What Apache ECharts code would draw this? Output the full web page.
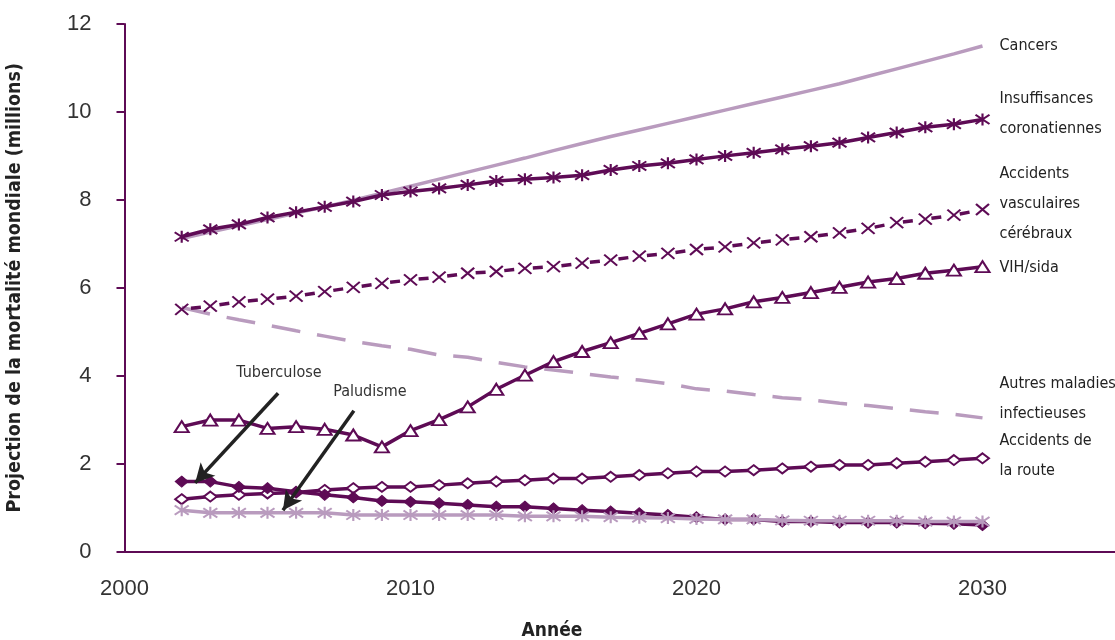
<!DOCTYPE html>
<html>
<head>
<meta charset="utf-8">
<script src="https://cdn.jsdelivr.net/npm/echarts@6/dist/echarts.min.js"></script>
<style>html,body{margin:0;padding:0;background:#fff}#c{width:1115px;height:640px}</style>
</head>
<body>
<div id="c"></div>
<script>
const years = [2002,2003,2004,2005,2006,2007,2008,2009,2010,2011,2012,2013,2014,2015,2016,2017,2018,2019,2020,2021,2022,2023,2024,2025,2026,2027,2028,2029,2030];
const xTicks = [2000, 2010, 2020, 2030];
const yTicks = [0, 2, 4, 6, 8, 10, 12];

const cancers = [7.12,7.27,7.41,7.55,7.70,7.84,7.99,8.15,8.31,8.47,8.63,8.79,8.95,9.12,9.28,9.44,9.59,9.74,9.89,10.04,10.19,10.34,10.49,10.64,10.81,10.98,11.15,11.32,11.50];
const insuffisances = [7.16,7.33,7.44,7.60,7.72,7.84,7.96,8.11,8.19,8.26,8.34,8.43,8.47,8.51,8.56,8.68,8.77,8.83,8.92,9.00,9.07,9.15,9.22,9.30,9.42,9.53,9.65,9.72,9.83];
const avc = [5.51,5.58,5.68,5.74,5.81,5.91,6.01,6.10,6.18,6.24,6.33,6.37,6.44,6.48,6.56,6.63,6.72,6.78,6.87,6.93,7.02,7.09,7.16,7.25,7.35,7.48,7.56,7.65,7.78];
const vih = [2.84,2.99,2.99,2.80,2.84,2.78,2.65,2.38,2.75,3.00,3.29,3.69,4.01,4.32,4.55,4.75,4.96,5.18,5.40,5.52,5.68,5.78,5.89,6.01,6.13,6.21,6.33,6.40,6.48];
const autres = [5.55,5.40,5.27,5.15,5.02,4.90,4.78,4.68,4.60,4.47,4.42,4.30,4.20,4.13,4.05,3.97,3.90,3.82,3.70,3.65,3.57,3.50,3.45,3.37,3.32,3.25,3.18,3.12,3.04];
const route = [1.19,1.25,1.29,1.32,1.34,1.40,1.44,1.47,1.47,1.51,1.55,1.59,1.62,1.66,1.66,1.70,1.74,1.78,1.82,1.82,1.85,1.89,1.93,1.97,1.97,2.01,2.04,2.08,2.12];
const tuberculose = [1.59,1.59,1.47,1.44,1.36,1.29,1.23,1.15,1.13,1.10,1.06,1.02,1.02,0.98,0.94,0.91,0.87,0.83,0.78,0.73,0.73,0.68,0.68,0.66,0.66,0.66,0.64,0.63,0.60];
const paludisme = [0.94,0.88,0.88,0.88,0.88,0.88,0.83,0.83,0.83,0.83,0.83,0.83,0.80,0.80,0.80,0.78,0.77,0.76,0.74,0.73,0.73,0.71,0.70,0.70,0.70,0.70,0.68,0.68,0.68];

const seriesNames = ['Cancers','Insuffisances\ncoronatiennes','Accidents\nvasculaires\ncérébraux','VIH/sida','Autres maladies\ninfectieuses','Accidents de\nla route','Tuberculose','Paludisme'];

// annotations: label positions and arrow start/tip, in data coordinates
const tbLabel = [2005.40, 4.06], tbArrow = [[2005.37, 3.60], [2002.47, 1.56]];
const palLabel = [2008.58, 3.63], palArrow = [[2008.02, 3.20], [2005.54, 0.94]];

const DARK = '#5e0b55';
const LIGHT = '#b99bbe';
const NARROW = "'Liberation Sans Narrow','DejaVu Sans Condensed','Liberation Sans',sans-serif";

const pair = arr => years.map((y, i) => [y, arr[i]]);
const endLbl = (dy) => ({
  show: true, formatter: p => p.seriesName, distance: 0, offset: [17, dy],
  fontFamily: NARROW, fontSize: 16, lineHeight: 30, color: '#222', align: 'left', verticalAlign: 'middle'
});

const asterisk = 'path://M0,0L10,10M10,0L0,10M5,-1.5L5,11.5';
const cross = 'path://M0,0L10,10M10,0L0,10';

const chart = echarts.init(document.getElementById('c'));
chart.setOption({
  animation: false,
  backgroundColor: '#fff',
  grid: { left: 124.5, right: -10.5, top: 24, bottom: 88.5, outerBoundsMode: 'none', containLabel: false },
  xAxis: {
    type: 'value', min: 2000, max: 2035, interval: 10,
    axisLine: { lineStyle: { color: DARK, width: 2 } },
    axisTick: { show: false },
    splitLine: { show: false },
    axisLabel: { showMaxLabel: false, margin: 26, fontSize: 22, color: '#333', fontFamily: "'Liberation Sans',sans-serif",
      formatter: v => xTicks.indexOf(v) >= 0 ? String(v) : '' }
  },
  yAxis: {
    type: 'value', min: 0, max: 12, interval: 2,
    name: 'Projection de la mortalité mondiale (millions)', nameLocation: 'middle', nameGap: 100,
    nameTextStyle: { fontFamily: NARROW, fontWeight: 'bold', fontSize: 19.5, color: '#222' },
    axisLine: { show: true, lineStyle: { color: DARK, width: 2 } },
    axisTick: { show: true, length: 8, lineStyle: { color: DARK, width: 2 } },
    splitLine: { show: false },
    axisLabel: { margin: 33, fontSize: 22, color: '#333', fontFamily: "'Liberation Sans',sans-serif",
      formatter: v => yTicks.indexOf(v) >= 0 ? String(v) : '' }
  },
  graphic: [{
    type: 'text', x: 552, y: 631,
    style: { text: 'Année', fontFamily: NARROW, fontWeight: 'bold', fontSize: 19, fill: '#222', align: 'center', verticalAlign: 'middle' }
  }],
  series: [
    { name: seriesNames[0], type: 'line', data: pair(cancers), showSymbol: false, symbol: 'none',
      lineStyle: { color: LIGHT, width: 3.5 }, itemStyle: { color: LIGHT }, endLabel: endLbl(0), z: 1 },
    { name: seriesNames[4], type: 'line', data: pair(autres), showSymbol: false, symbol: 'none',
      lineStyle: { color: LIGHT, width: 3.5, type: [29, 17] }, itemStyle: { color: LIGHT }, endLabel: endLbl(-19), z: 1 },
    { name: seriesNames[1], type: 'line', data: pair(insuffisances), symbol: asterisk, symbolSize: [14, 12],
      lineStyle: { color: DARK, width: 3.5 }, itemStyle: { color: 'none', borderColor: DARK, borderWidth: 2 },
      endLabel: endLbl(-6), z: 3 },
    { name: seriesNames[2], type: 'line', data: pair(avc), symbol: cross, symbolSize: [13, 11],
      lineStyle: { color: DARK, width: 3.5, type: [10, 18.7], dashOffset: 19.4 },
      itemStyle: { color: 'none', borderColor: DARK, borderWidth: 2 },
      endLabel: endLbl(-6), z: 3 },
    { name: seriesNames[3], type: 'line', data: pair(vih), symbol: 'triangle', symbolSize: [14, 11],
      lineStyle: { color: DARK, width: 3.5 }, itemStyle: { color: '#fff', borderColor: DARK, borderWidth: 2 },
      endLabel: endLbl(1), z: 3 },
    { name: seriesNames[5], type: 'line', data: pair(route), symbol: 'diamond', symbolSize: [13, 10],
      lineStyle: { color: DARK, width: 3.5 }, itemStyle: { color: '#fff', borderColor: DARK, borderWidth: 2 },
      endLabel: endLbl(-2), z: 3 },
    { name: seriesNames[6], type: 'line', data: pair(tuberculose), symbol: 'diamond', symbolSize: [13, 11],
      lineStyle: { color: DARK, width: 3.5 }, itemStyle: { color: DARK, borderColor: DARK, borderWidth: 1 }, z: 3,
      markLine: {
        silent: true, symbol: ['none', 'arrow'], symbolSize: [15, 19],
        lineStyle: { color: '#222', width: 3.5, type: 'solid' }, label: { show: false },
        data: [
          [{ coord: tbArrow[0] }, { coord: tbArrow[1] }],
          [{ coord: palArrow[0] }, { coord: palArrow[1] }]
        ]
      },
      markPoint: {
        silent: true, symbol: 'circle', symbolSize: 0,
        label: { show: true, position: 'inside', formatter: p => p.name, fontFamily: NARROW, fontSize: 16, color: '#333' },
        data: [
          { name: 'Tuberculose', coord: tbLabel },
          { name: 'Paludisme', coord: palLabel }
        ]
      }
    },
    { name: seriesNames[7], type: 'line', data: pair(paludisme), symbol: asterisk, symbolSize: [14, 12],
      lineStyle: { color: LIGHT, width: 3.5 }, itemStyle: { color: 'none', borderColor: LIGHT, borderWidth: 2 }, z: 4 }
  ]
});
</script>
</body>
</html>
